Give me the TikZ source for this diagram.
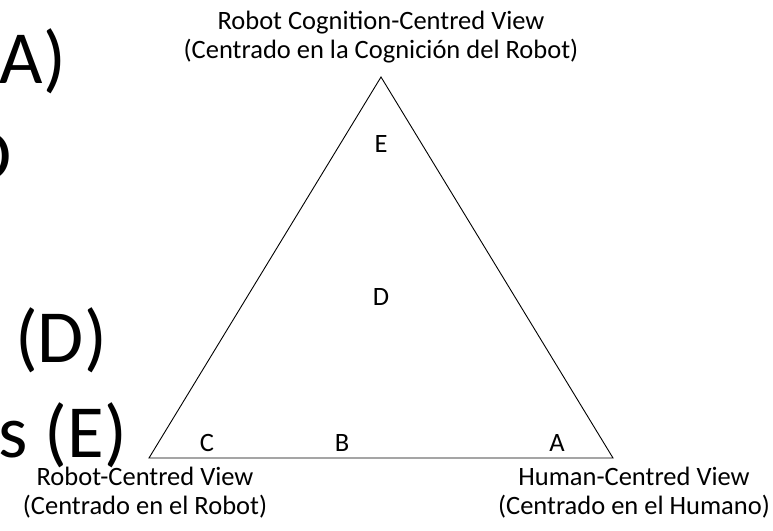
\documentclass[tikz,border=0pt]{standalone}
\usepackage{fontspec}
\setmainfont{Carlito}
\begin{document}
\begin{tikzpicture}[x=1pt,y=-1pt,
    viewlabel/.style={align=center,font=\fontsize{26.5}{29}\selectfont,inner sep=0pt},
    letter/.style={anchor=base,font=\fontsize{26.5}{29}\selectfont,inner sep=0pt},
    bigtext/.style={anchor=base east,font=\fontsize{75}{90}\selectfont,inner sep=0pt}]
        \useasboundingbox (0,0) rectangle (773,530);
        \clip (0,0) rectangle (773,530);
        % cropped list text on the left
        \node[bigtext] (lineA) at (66,83) {A)};
        \node[bigtext] (lineB) at (12,180) {D};
        \node[bigtext] (lineD) at (107,362) {(D)};
        \node[bigtext] (lineE) at (127,457) {s (E)};
        % triangle
        \coordinate (apex) at (381,77);
        \coordinate (robot) at (149,458);
        \coordinate (human) at (613,458);
        \draw[line width=0.9pt, line join=miter] (apex) -- (robot) -- (human) -- cycle;
        % base anchor sits on the last line
        \node[viewlabel, anchor=base] (cogview) at (381,58) {Robot Cognition-Centred View\\(Centrado en la Cognición del Robot)};
        \node[viewlabel, anchor=base] (robotview) at (145,514) {Robot-Centred View\\(Centrado en el Robot)};
        \node[viewlabel, anchor=base] (humanview) at (634,514) {Human-Centred View\\(Centrado en el Humano)};
        \node[letter] (ptE) at (381,152) {E};
        \node[letter] (ptD) at (381,305) {D};
        \node[letter] (ptC) at (207,451) {C};
        \node[letter] (ptB) at (342,451) {B};
        \node[letter] (ptA) at (557,451) {A};
    \end{tikzpicture}
\end{document}
